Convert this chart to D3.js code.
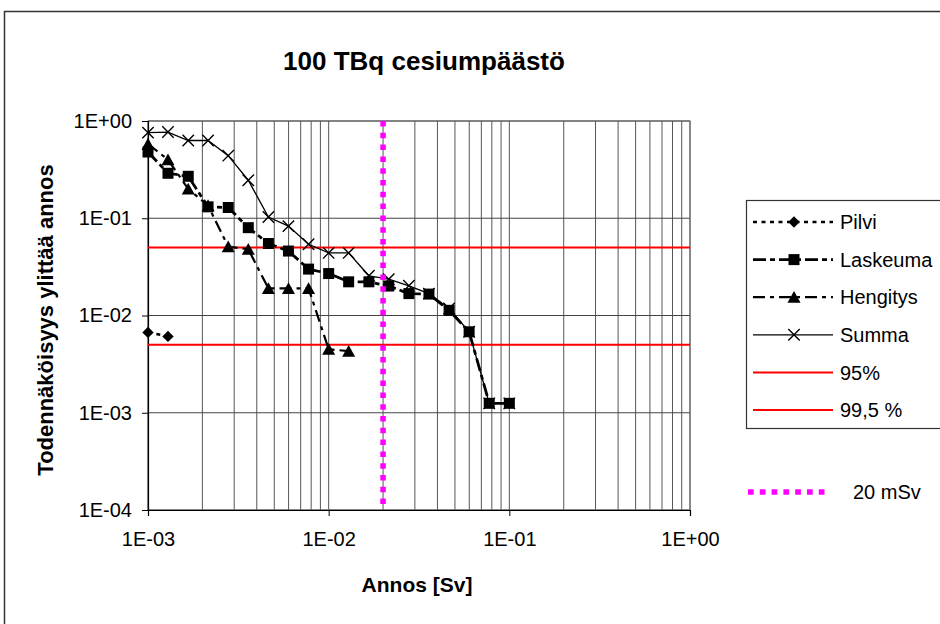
<!DOCTYPE html>
<html>
<head>
<meta charset="utf-8">
<script src="https://cdn.jsdelivr.net/npm/d3@7"></script>
<style>
  body { margin: 0; background: #fff; }
  svg { display: block; }
  text { font-family: "Liberation Sans", Arial, sans-serif; fill: #000; }
</style>
</head>
<body>
<svg id="chart" width="940" height="624"></svg>
<script>
// Dose levels (Sv) at which the exceedance probabilities were evaluated
const doses = [0.001, 0.00129, 0.00167, 0.00215, 0.00278, 0.00359, 0.00464, 0.00599, 0.00774,
               0.01, 0.0129, 0.0167, 0.0215, 0.0278, 0.0359, 0.0464, 0.0599, 0.0774, 0.1];

// Probability that the dose is exceeded, per exposure pathway
const pilvi    = [0.0067, 0.0061];
const laskeuma = [0.48, 0.29, 0.27, 0.131, 0.129, 0.080, 0.055, 0.046, 0.030, 0.027,
                  0.0222, 0.0222, 0.0201, 0.0168, 0.0166, 0.0113, 0.0068, 0.00125, 0.00125];
const hengitys = [0.58, 0.40, 0.20, 0.135, 0.051, 0.048, 0.019, 0.019, 0.019, 0.0045, 0.0043];
const summa    = [0.76, 0.77, 0.63, 0.63, 0.44, 0.246, 0.103, 0.083, 0.054, 0.044,
                  0.044, 0.0256, 0.0236, 0.0202, 0.0168, 0.0118, 0.0068, 0.00125, 0.00125];

// Reference levels
const level95 = 0.05;
const level995 = 0.005;
const doseLimit = 0.02;

const xTicks = [1e-3, 1e-2, 1e-1, 1];
const xTickLabels = ["1E-03", "1E-02", "1E-01", "1E+00"];
const yTicks = [1, 1e-1, 1e-2, 1e-3, 1e-4];
const yTickLabels = ["1E+00", "1E-01", "1E-02", "1E-03", "1E-04"];

const legendNames = ["Pilvi", "Laskeuma", "Hengitys", "Summa", "95%", "99,5 %"];
const limitName = "20 mSv";
const titleText = "100 TBq cesiumpäästö";
const xTitle = "Annos [Sv]";
const yTitle = "Todennäköisyys ylittää annos";

const svg = d3.select("#chart");
const L = 148, R = 690, T = 121, B = 510;

const x = d3.scaleLog().domain([1e-3, 1]).range([L, R]);
const y = d3.scaleLog().domain([1e-4, 1]).range([B, T]);

// outer chart frame (runs off the right and bottom edges)
svg.append("rect").attr("x", 4.5).attr("y", 11.5).attr("width", 1000).attr("height", 700)
  .attr("fill", "#fff").attr("stroke", "#333").attr("stroke-width", 1.5);

// custom marker shapes
const shapes = {
  diamond: { draw(ctx, s) { const r = Math.sqrt(s) / 2; ctx.moveTo(0, -r); ctx.lineTo(r, 0); ctx.lineTo(0, r); ctx.lineTo(-r, 0); ctx.closePath(); } },
  square:  { draw(ctx, s) { const r = Math.sqrt(s) / 2; ctx.rect(-r, -r, 2 * r, 2 * r); } },
  triangle:{ draw(ctx, s) { const r = Math.sqrt(s) / 2; ctx.moveTo(0, -r * 1.05); ctx.lineTo(r * 1.1, r * 0.95); ctx.lineTo(-r * 1.1, r * 0.95); ctx.closePath(); } },
  cross:   { draw(ctx, s) { const r = Math.sqrt(s) / 2; ctx.moveTo(-r, -r); ctx.lineTo(r, r); ctx.moveTo(r, -r); ctx.lineTo(-r, r); } }
};

// gridlines
const grid = svg.append("g");
grid.selectAll("line.v").data(x.ticks()).join("line")
  .attr("x1", d => x(d)).attr("x2", d => x(d)).attr("y1", T).attr("y2", B)
  .attr("stroke", "#555").attr("stroke-width", 1);
grid.selectAll("line.h").data(yTicks).join("line")
  .attr("x1", L).attr("x2", R).attr("y1", d => y(d)).attr("y2", d => y(d))
  .attr("stroke", "#444").attr("stroke-width", 1.2);
svg.append("rect").attr("x", L).attr("y", T).attr("width", R - L).attr("height", B - T)
  .attr("fill", "none").attr("stroke", "#666").attr("stroke-width", 1);

// axes
const yAxis = d3.axisLeft(y).tickValues(yTicks).tickSize(6).tickFormat((d, i) => yTickLabels[i]);
const gy = svg.append("g").attr("transform", `translate(${L},0)`).call(yAxis);
gy.select(".domain").attr("stroke", "#000").attr("stroke-width", 1.2);
gy.selectAll(".tick line").attr("stroke", "#000");
gy.selectAll(".tick text").attr("font-size", 20).attr("x", -16).attr("font-family", "Liberation Sans, Arial, sans-serif");

const xAxis = d3.axisBottom(x).tickValues(xTicks).tickSize(6).tickFormat((d, i) => xTickLabels[i]);
const gx = svg.append("g").attr("transform", `translate(0,${B})`).call(xAxis);
gx.select(".domain").attr("stroke", "#000").attr("stroke-width", 1.2);
gx.selectAll(".tick line").attr("stroke", "#000");
gx.selectAll(".tick text").attr("font-size", 20).attr("y", 22).attr("font-family", "Liberation Sans, Arial, sans-serif");

// reference levels
[level95, level995].forEach(v => {
  svg.append("line").attr("x1", L).attr("x2", R).attr("y1", y(v)).attr("y2", y(v))
    .attr("stroke", "#ff0000").attr("stroke-width", 2);
});

// series
const series = [
  { name: legendNames[0], vals: pilvi,    shape: shapes.diamond,  size: 130, dash: "4,4.5",    width: 2.5 },
  { name: legendNames[1], vals: laskeuma, shape: shapes.square,   size: 121, dash: "13,4,5,4", width: 2.8 },
  { name: legendNames[2], vals: hengitys, shape: shapes.triangle, size: 140, dash: "12,5,4,5", width: 2.2 },
  { name: legendNames[3], vals: summa,    shape: shapes.cross,    size: 130, dash: null,       width: 1.3 }
];

const lineGen = d3.line().x(d => x(d[0])).y(d => y(d[1]));
series.forEach(s => {
  const pts = s.vals.map((v, i) => [doses[i], v]);
  const g = svg.append("g");
  g.append("path").attr("d", lineGen(pts)).attr("fill", "none").attr("stroke", "#000")
    .attr("stroke-width", s.width).attr("stroke-dasharray", s.dash);
  g.selectAll("path.m").data(pts).join("path").attr("class", "m")
    .attr("transform", d => `translate(${x(d[0])},${y(d[1])})`)
    .attr("d", d3.symbol().type(s.shape).size(s.size))
    .attr("fill", s.shape === shapes.cross ? "none" : "#000")
    .attr("stroke", "#000").attr("stroke-width", s.shape === shapes.cross ? 1.4 : 0);
});

// 20 mSv dose limit
svg.append("line").attr("x1", x(doseLimit)).attr("x2", x(doseLimit)).attr("y1", T).attr("y2", B)
  .attr("stroke", "#ff00ff").attr("stroke-width", 5.5).attr("stroke-dasharray", "5.5,6.3");

// titles
svg.append("text").attr("x", 424).attr("y", 70).attr("text-anchor", "middle")
  .attr("font-size", 26).attr("font-weight", "bold").text(titleText);
svg.append("text").attr("x", 417).attr("y", 592).attr("text-anchor", "middle")
  .attr("font-size", 21).attr("font-weight", "bold").text(xTitle);
svg.append("text").attr("transform", "translate(53,320) rotate(-90)").attr("text-anchor", "middle")
  .attr("font-size", 22).attr("font-weight", "bold").text(yTitle);

// legend
const lg = svg.append("g");
lg.append("rect").attr("x", 746.5).attr("y", 200.5).attr("width", 300).attr("height", 228)
  .attr("fill", "#fff").attr("stroke", "#333").attr("stroke-width", 1.2);
const rowY = i => 222 + i * 37.6;
series.forEach((s, i) => {
  lg.append("line").attr("x1", 753).attr("x2", 833).attr("y1", rowY(i)).attr("y2", rowY(i))
    .attr("stroke", "#000").attr("stroke-width", s.width).attr("stroke-dasharray", s.dash);
  lg.append("path").attr("transform", `translate(794,${rowY(i)})`)
    .attr("d", d3.symbol().type(s.shape).size(s.size))
    .attr("fill", s.shape === shapes.cross ? "none" : "#000")
    .attr("stroke", "#000").attr("stroke-width", s.shape === shapes.cross ? 1.4 : 0);
  lg.append("text").attr("x", 840).attr("y", rowY(i)).attr("dy", "0.36em")
    .attr("font-size", 20).text(s.name);
});
[4, 5].forEach(i => {
  lg.append("line").attr("x1", 753).attr("x2", 833).attr("y1", rowY(i)).attr("y2", rowY(i))
    .attr("stroke", "#ff0000").attr("stroke-width", 2);
  lg.append("text").attr("x", 840).attr("y", rowY(i)).attr("dy", "0.36em")
    .attr("font-size", 20).text(legendNames[i]);
});
lg.append("line").attr("x1", 748).attr("x2", 826).attr("y1", 492).attr("y2", 492)
  .attr("stroke", "#ff00ff").attr("stroke-width", 5.5).attr("stroke-dasharray", "5.7,6.1");
lg.append("text").attr("x", 853).attr("y", 492).attr("dy", "0.36em")
  .attr("font-size", 20).text(limitName);
</script>
</body>
</html>
